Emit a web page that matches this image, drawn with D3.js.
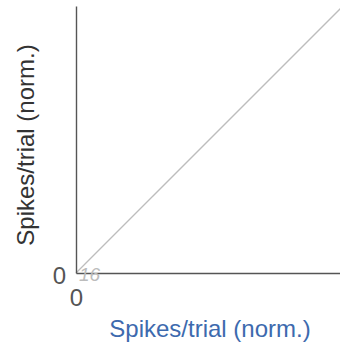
<!DOCTYPE html>
<html><head><meta charset="utf-8">
<script src="https://cdn.jsdelivr.net/npm/d3@7"></script>
<style>body{margin:0;background:#fff}svg{display:block}</style>
</head><body>
<script>
const domain = [0, 1];
const xTicks = [0];
const yTicks = [0];
const unityLine = [[0, 0], [1, 1]];
const countLabel = "16";
const xLabel = "Spikes/trial (norm.)";
const yLabel = "Spikes/trial (norm.)";

const W = 340, H = 347;
const FONT = "Liberation Sans, Arial, Helvetica, sans-serif";
const svg = d3.select("body").append("svg").attr("width", W).attr("height", H);
const x = d3.scaleLinear().domain(domain).range([76, 343]);
const y = d3.scaleLinear().domain(domain).range([273, 6]);

svg.append("path").datum(unityLine)
  .attr("d", d3.line().x(d => x(d[0])).y(d => y(d[1])))
  .attr("fill", "none").attr("stroke", "#bdbdbd").attr("stroke-width", 1.3);

const xa = svg.append("g").attr("transform", `translate(0,${y(0)})`)
  .call(d3.axisBottom(x).tickValues(xTicks).tickFormat(d3.format("d")).tickSize(0).tickPadding(0));
xa.select(".domain").attr("stroke", "#555").attr("stroke-width", 1.4);
xa.selectAll("text").attr("font-family", FONT).attr("font-size", 24).attr("fill", "#555")
  .attr("dy", null).attr("y", 33);

const ya = svg.append("g").attr("transform", `translate(${x(0)},0)`)
  .call(d3.axisLeft(y).tickValues(yTicks).tickFormat(d3.format("d")).tickSize(0).tickPadding(10));
ya.select(".domain").attr("stroke", "#555").attr("stroke-width", 1.4);
ya.selectAll("text").attr("font-family", FONT).attr("font-size", 24).attr("fill", "#555")
  .attr("dy", null).attr("y", 10);

svg.append("text").attr("x", x(0) + 3).attr("y", y(0) + 8)
  .attr("font-family", FONT).attr("font-size", 19)
  .attr("font-style", "italic").attr("fill", "#bcbcbc").text(countLabel);

svg.append("text").attr("x", 210).attr("y", 337).attr("text-anchor", "middle")
  .attr("font-family", FONT).attr("font-size", 24)
  .attr("fill", "#3d6aae").text(xLabel);

svg.append("text").attr("transform", "translate(34,145) rotate(-90)").attr("text-anchor", "middle")
  .attr("font-family", FONT).attr("font-size", 24)
  .attr("fill", "#333").text(yLabel);
</script>
</body></html>
